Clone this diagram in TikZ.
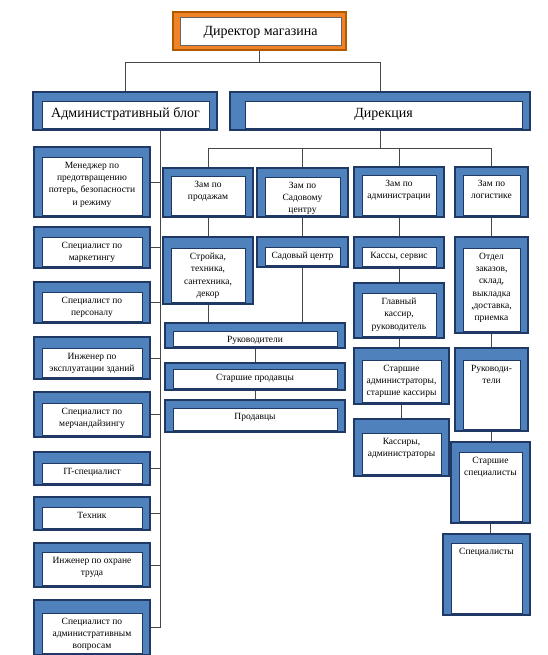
\documentclass[tikz,border=0pt]{standalone}
\usepackage{fontspec}
\setmainfont{Liberation Serif}
\usetikzlibrary{fit}
\definecolor{boxblue}{RGB}{79,129,189}
\definecolor{boxnavy}{RGB}{31,56,100}
\definecolor{boxorange}{RGB}{240,130,40}
\definecolor{linegray}{RGB}{70,70,70}
\tikzset{
  outbox/.style={fill=boxblue, draw=boxnavy, line width=1.6pt, inner sep=0pt},
  inbox/.style={fill=white, draw=boxnavy, line width=0.6pt, inner sep=0pt},
  boxtext/.style={align=center, inner sep=2pt, yshift=-3pt, font=\fontsize{9.5}{12.3}\selectfont},
  bigtext/.style={align=center, inner sep=4pt, yshift=-3pt, font=\fontsize{14}{16}\selectfont},
  conn/.style={draw=linegray, line width=0.9pt},
}
% [left inset] name, x1, y1, x2, y2, top inset, text
\newcommand\orgbox[8][8]{%
  \node[outbox, fit={(#3,#4) (#5,#6)}] (#2) {};
  \node[inbox, fit={(#3+#1,#4+#7) (#5-8,#6-2)}] (#2-in) {};
  \node[boxtext, anchor=north] (#2-t) at (#2-in.north) {#8};
}
\begin{document}
\begin{tikzpicture}[x=1pt, y=-1pt]
  \useasboundingbox (0,0) rectangle (548,655);

  % top level
  \node[outbox, fill=boxorange, draw=orange!70!black, fit={(173,12) (346,50)}] (dir) {};
  \node[inbox, draw=black!60, fit={(180,17) (341,45)}] (dir-in) {};
  \node[bigtext, anchor=north, yshift=-2pt] (dir-t) at (dir-in.north) {Директор магазина};

  \begin{scope}[boxtext/.style=bigtext]
    \orgbox[9]{admin}{33}{92}{217}{130}{9}{Административный блог}
    \orgbox[15]{direkt}{230}{92}{530}{130}{9}{Дирекция}
  \end{scope}

  % administrative block
  \orgbox{lb1}{34}{147}{150}{217}{10}{Менеджер по\\предотвращению\\потерь, безопасности\\и режиму}
  \orgbox{lb2}{34}{227}{150}{268}{10}{Специалист по\\маркетингу}
  \orgbox{lb3}{34}{282}{150}{323}{10}{Специалист по\\персоналу}
  \orgbox{lb4}{34}{337}{150}{379}{11}{Инженер по\\эксплуатации зданий}
  \orgbox{lb5}{34}{392}{150}{437}{11}{Специалист по\\мерчандайзингу}
  \orgbox{lb6}{34}{452}{150}{485}{11}{IT-специалист}
  \orgbox{lb7}{34}{497}{150}{530}{10}{Техник}
  \orgbox{lb8}{34}{543}{150}{587}{9}{Инженер по охране\\труда}
  \orgbox{lb9}{34}{600}{150}{655}{13}{Специалист по\\административным\\вопросам}

  % deputies
  \orgbox{zp}{163}{168}{253}{217}{8}{Зам по\\продажам}
  \orgbox{zs}{257}{168}{348}{217}{9}{Зам по\\Садовому\\центру}
  \orgbox{za}{354}{167}{444}{217}{8}{Зам по\\администрации}
  \orgbox{zl}{455}{167}{528}{217}{8}{Зам по\\логистике}

  % sales
  \orgbox{stroy}{163}{237}{253}{304}{11}{Стройка,\\техника,\\сантехника,\\декор}
  \orgbox{sad}{257}{237}{348}{267}{10}{Садовый центр}
  \orgbox{ruk}{165}{323}{345}{348}{8}{Руководители}
  \orgbox{starpr}{165}{363}{345}{390}{6}{Старшие продавцы}
  \orgbox{prod}{165}{400}{345}{432}{8}{Продавцы}

  % administration
  \orgbox{kassy}{354}{237}{444}{268}{10}{Кассы, сервис}
  \orgbox{glav}{354}{283}{444}{338}{10}{Главный\\кассир,\\руководитель}
  \orgbox{starad}{354}{348}{449}{404}{12}{Старшие\\администраторы,\\старшие кассиры}
  \orgbox{kassiry}{354}{419}{449}{476}{14}{Кассиры,\\администраторы}

  % logistics
  \orgbox{otdel}{455}{237}{528}{333}{11}{Отдел\\заказов,\\склад,\\выкладка\\,доставка,\\приемка}
  \orgbox{rukl}{455}{348}{528}{431}{12}{Руководи-\\тели}
  \orgbox{starsp}{451}{442}{530}{523}{10}{Старшие\\специалисты}
  \orgbox{spec}{443}{534}{530}{615}{9}{Специалисты}

  % connectors
  \draw[conn] (dir.south) -- ++(0,12) coordinate (b1);
  \draw[conn] (admin.north) |- (b1) -| (direkt.north);

  \coordinate (ax) at (160,0);
  \draw[conn] (admin.south -| ax) -- (lb9.east -| ax);
  \foreach \i in {1,...,9}
    \draw[conn] (lb\i.east) -- (lb\i.east -| ax);

  \draw[conn] (direkt.south) -- ++(0,18) coordinate (b2);
  \draw[conn] (zp.north) |- (b2) -| (zl.north);
  \foreach \n in {zs,za}
    \draw[conn] (\n.north) -- (\n.north |- b2);

  \draw[conn] (stroy.south) -- (stroy.south |- ruk.north);
  \draw[conn] (sad.south) -- (sad.south |- ruk.north);
  \foreach \a/\b in {zp/stroy, zs/sad, ruk/starpr, starpr/prod,
      za/kassy, kassy/glav, glav/starad, starad/kassiry,
      zl/otdel, otdel/rukl, rukl/starsp, starsp/spec}
    \draw[conn] (\a.south) -- (\a.south |- \b.north);
\end{tikzpicture}
\end{document}
